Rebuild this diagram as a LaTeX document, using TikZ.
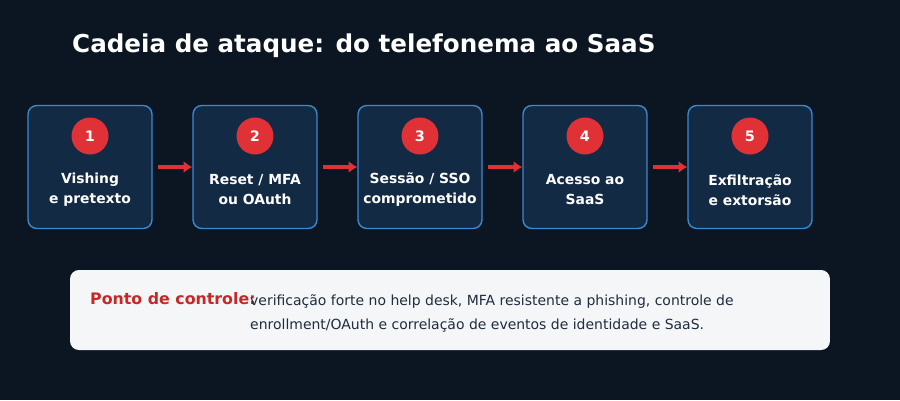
\documentclass[tikz,border=0pt]{standalone}
\usepackage{fontspec}
\setmainfont{DejaVu Sans}
\usetikzlibrary{positioning,arrows.meta}
\definecolor{bgdark}{HTML}{0B1622}
\definecolor{stepfill}{HTML}{132A45}
\definecolor{stepline}{HTML}{3A8AD0}
\definecolor{alertred}{HTML}{E03236}
\definecolor{panelfill}{HTML}{F4F6F8}
\definecolor{paneltext}{HTML}{1F2D3D}
\definecolor{labelred}{HTML}{C62828}
\tikzset{
  stage/.style={draw=stepline, line width=0.8pt, fill=stepfill, rounded corners=5pt,
    minimum width=2.48cm, minimum height=2.46cm},
  badge/.style={circle, fill=alertred, minimum size=0.74cm, inner sep=0pt,
    text=white, font=\bfseries\fontsize{8.2}{9}\selectfont},
  stagetext/.style={text=white, align=center, font=\bfseries\fontsize{7.9}{11.4}\selectfont},
  flow/.style={alertred, line width=2.2pt, -{Latex[length=5pt,width=7pt]}}
}
\begin{document}
\begin{tikzpicture}[x=0.02cm,y=-0.02cm]
  \fill[bgdark] (0,0) rectangle (900,400);
  \useasboundingbox (0,0) rectangle (900,400);
  \node[anchor=west, text=white, font=\bfseries\fontsize{14}{16}\selectfont] (title) at (66,46) {Cadeia de ataque: do telefonema ao SaaS};
  % etapas
  \foreach \i/\txt in {1/{Vishing\\e pretexto}, 2/{Reset / MFA\\ou OAuth}, 3/{Sessão / SSO\\comprometido}, 4/{Acesso ao\\SaaS}, 5/{Exfiltração\\e extorsão}} {
    \node[stage] (s\i) at ({90+165*(\i-1)},167) {};
    \node[badge] (b\i) at ({90+165*(\i-1)},136) {\i};
    \node[stagetext] (t\i) at ({90+165*(\i-1)},190) {\txt};
  }
  \foreach \a/\b in {1/2, 2/3, 3/4, 4/5}
    \draw[flow] ([xshift=3pt]s\a.east) -- (s\b.west);
  % controle
  \node[fill=panelfill, rounded corners=5pt, minimum width=15.2cm, minimum height=1.6cm] (panel) at (450,310) {};
  \node[anchor=west, text=labelred, font=\bfseries\fontsize{9}{10}\selectfont] (ctrl) at (84,299) {Ponto de controle:};
  \node[anchor=north west, text=paneltext, align=left, font=\fontsize{7.95}{14}\selectfont] (ctrltext) at (244,288)
    {verificação forte no help desk, MFA resistente a phishing, controle de\\enrollment/OAuth e correlação de eventos de identidade e SaaS.};
\end{tikzpicture}
\end{document}
